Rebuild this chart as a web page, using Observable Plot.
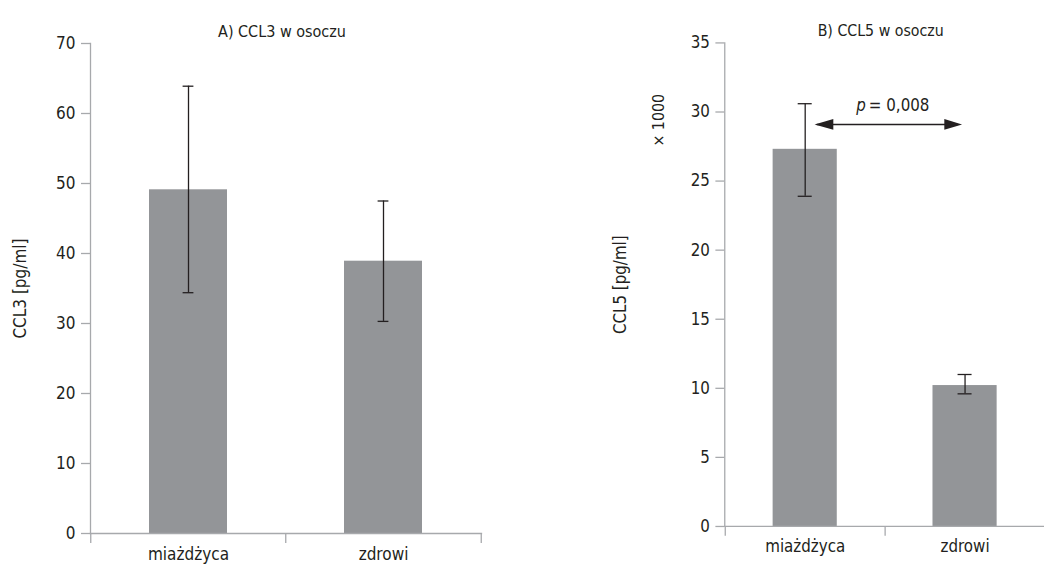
<!DOCTYPE html>
<html><head><meta charset="utf-8">
<script src="https://cdn.jsdelivr.net/npm/d3@7"></script>
<script src="https://cdn.jsdelivr.net/npm/@observablehq/plot@0.6"></script>
<style>
body{margin:0;background:#fff;}
#wrap{position:relative;width:1044px;height:564px;overflow:hidden;background:#fff;}
#a{position:absolute;left:0;top:0;width:520px;height:564px;}
#b{position:absolute;left:520px;top:0;width:524px;height:564px;overflow:hidden;}
</style></head><body><div id="wrap"><div id="a"></div><div id="b"></div></div>
<script>
// ---- data ----
const groups = ["miażdżyca", "zdrowi"];
const ccl3Mean = [49.1, 38.9];
const ccl3Low = [34.4, 30.3];
const ccl3High = [63.9, 47.5];
const ccl5Mean = [27.3, 10.2];
const ccl5Low = [23.9, 9.6];
const ccl5High = [30.6, 11.0];
const yTicksA = [0, 10, 20, 30, 40, 50, 60, 70];
const yTicksB = [0, 5, 10, 15, 20, 25, 30, 35];
const titleA = "A) CCL3 w osoczu";
const titleB = "B) CCL5 w osoczu";
const labelA = "CCL3 [pg/ml]";
const labelB = "CCL5 [pg/ml]";
const multLabel = "× 1000";
const multY = [29.4];
const pText = "= 0,008";
const pY = [29.1];

const FONT = '"Liberation Sans Narrow","DejaVu Sans Condensed","Roboto Condensed","Liberation Sans",sans-serif';
const GRAY_AX = "#a7a9ac";
const BAR = "#939598";
const INK = "#231f20";
const FS = 17;

function rows(mean, lo, hi) {
  return groups.map((g, i) => ({g, mean: mean[i], lo: lo[i], hi: hi[i]}));
}

function panel({data, ticks, domain, title, label, labelOffset, width, marginLeft, marginRight, capW, extra}) {
  const height = 564, marginTop = 43, marginBottom = 31;
  const span = width - marginLeft - marginRight;
  const step = span / groups.length;
  const bw = step * 0.4;
  const inset = (bw - capW) / 2;
  return Plot.plot({
    width, height, marginLeft, marginRight, marginTop, marginBottom,
    style: {fontFamily: FONT, fontSize: FS + "px", color: INK, background: "transparent", overflow: "visible"},
    x: {domain: groups, paddingInner: 0.6, paddingOuter: 0.3, label: null},
    y: {domain, label: null},
    marks: [
      Plot.barY(data, {x: "g", y: "mean", fill: BAR}),
      Plot.ruleX(data, {x: "g", y1: "lo", y2: "hi", stroke: INK, strokeWidth: 1.3}),
      Plot.tickY(data, {x: "g", y: "lo", stroke: INK, strokeWidth: 1.3, insetLeft: inset, insetRight: inset}),
      Plot.tickY(data, {x: "g", y: "hi", stroke: INK, strokeWidth: 1.3, insetLeft: inset, insetRight: inset}),
      Plot.frame({anchor: "left", stroke: GRAY_AX, strokeWidth: 1.3}),
      Plot.frame({anchor: "bottom", stroke: GRAY_AX, strokeWidth: 1.3}),
      Plot.axisY(ticks, {tickSize: 9, tickPadding: 6, stroke: GRAY_AX, strokeWidth: 1.3,
        label, labelAnchor: "center", labelArrow: "none", labelOffset, fontSize: FS}),
      Plot.axisX(groups, {tickSize: 10, text: null, dx: -step / 2, stroke: GRAY_AX, strokeWidth: 1.3, label: null}),
      Plot.axisX([groups[groups.length - 1]], {tickSize: 10, text: null, dx: step / 2, stroke: GRAY_AX, strokeWidth: 1.3, label: null}),
      Plot.axisX(groups, {tickSize: 0, tickPadding: 14, label: null, fontSize: FS}),
      Plot.text([title], {frameAnchor: "top", dy: -18, dx: -4, fontSize: 16}),
      ...(extra ? extra(step) : [])
    ]
  });
}

document.getElementById("a").append(panel({
  data: rows(ccl3Mean, ccl3Low, ccl3High), ticks: yTicksA, domain: [0, 70],
  title: titleA, label: labelA, labelOffset: 77,
  width: 520, marginLeft: 90, marginRight: 39, capW: 11
}));

const triangle = {draw(ctx, l, r) { ctx.moveTo(0, 0); ctx.lineTo(r, l); ctx.lineTo(-r, l); ctx.closePath(); }};
const first = () => groups[0];
const last = () => groups[groups.length - 1];

document.getElementById("b").append(panel({
  data: rows(ccl5Mean, ccl5Low, ccl5High), ticks: yTicksB, domain: [0, 35],
  title: titleB, label: labelB, labelOffset: 112,
  width: 531, marginLeft: 207, marginRight: 0, capW: 14,
  extra: (step) => [
    Plot.arrow(pY, {x1: first, x2: last, y1: d => d, y2: d => d, headLength: 0,
      insetStart: 12, insetEnd: 8, stroke: INK, strokeWidth: 1.6}),
    Plot.vector(pY, {x: first, y: d => d, rotate: -90, length: 19, r: 5.5, shape: triangle,
      anchor: "start", dx: 9.5, fill: INK, stroke: "none"}),
    Plot.vector(pY, {x: last, y: d => d, rotate: 90, length: 18, r: 5.5, shape: triangle,
      anchor: "start", dx: -3, fill: INK, stroke: "none"}),
    Plot.text(pY, {x: first, y: d => d, text: () => "p", textAnchor: "end", dx: 61.5, dy: -19,
      fontStyle: "italic", fontSize: FS}),
    Plot.text(pY, {x: first, y: d => d, text: () => pText, textAnchor: "start", dx: 64.5, dy: -19,
      fontSize: FS}),
    Plot.text(multY, {frameAnchor: "left", y: d => d, text: () => multLabel, rotate: -90, dx: -67,
      textAnchor: "middle", fontSize: 16})
  ]
}));
</script>
</body></html>
